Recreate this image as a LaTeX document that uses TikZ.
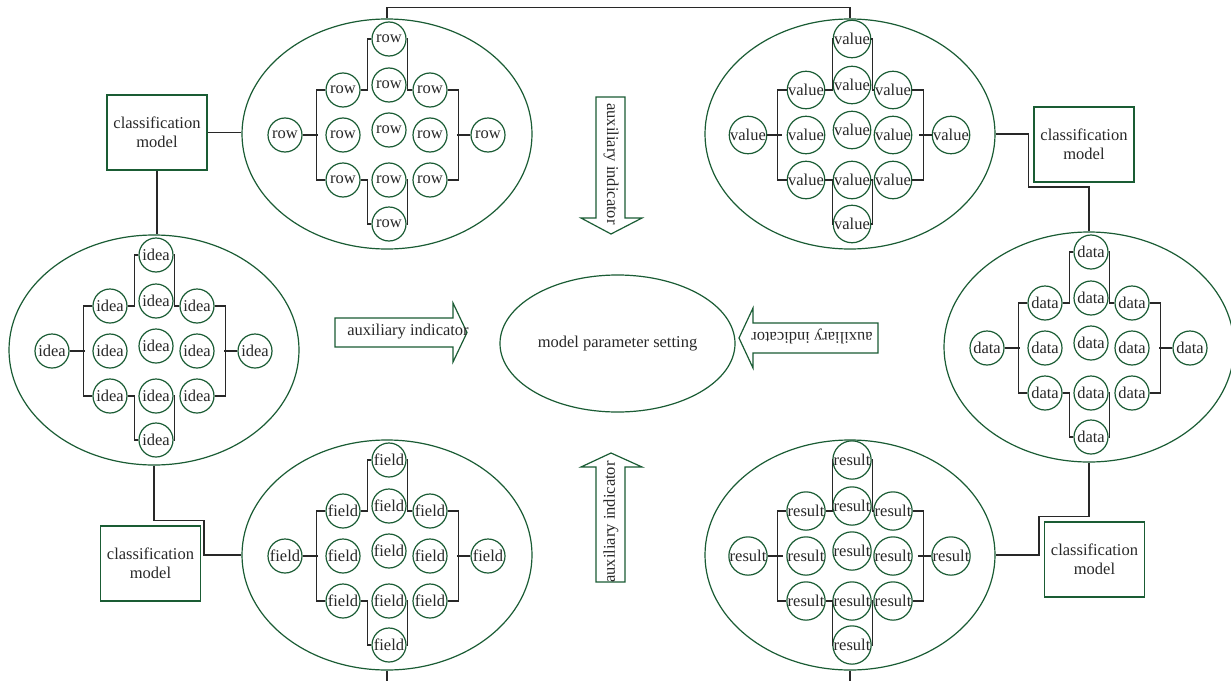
\documentclass[tikz,border=0pt]{standalone}
\usepackage{fontspec}
\setmainfont{Liberation Serif}
\usetikzlibrary{shapes.geometric}
\definecolor{dg}{RGB}{26,92,52}
\definecolor{ln}{RGB}{40,40,40}
\tikzset{
  every node/.style={text=ln, font=\fontsize{16.5}{19.5}\selectfont},
  cir/.style={circle, draw=dg, line width=1.2pt, minimum size=34pt, inner sep=0pt},
  oval/.style={ellipse, draw=dg, line width=1.2pt, minimum width=290pt, minimum height=230pt, inner sep=0pt},
  conn/.style={draw=ln, line width=1.2pt},
  cbox/.style={rectangle, draw=dg, line width=1.2pt, minimum width=100pt, minimum height=75pt, align=center, inner sep=0pt},
  arr/.style={draw=dg, line width=1.2pt, fill=white, line join=miter},
}
\newcommand\cluster[4]{%
  \begin{scope}[shift={(#2,#3)}]
    \node[oval] (#1O) at (-2,-1) {};
    \node[cir] (#1L) at (-104,0) {#4};
    \node[cir] (#1A) at (-46,-45) {#4};
    \node[cir] (#1B) at (-46,0) {#4};
    \node[cir] (#1C) at (-46,45) {#4};
    \node[cir] (#1T) at (0,-96) {#4};
    \node[cir] (#1S) at (0,-50) {#4};
    \node[cir] (#1M) at (0,-5) {#4};
    \node[cir] (#1U) at (0,45) {#4};
    \node[cir] (#1V) at (0,89) {#4};
    \node[cir] (#1D) at (41,-45) {#4};
    \node[cir] (#1E) at (41,0) {#4};
    \node[cir] (#1F) at (41,45) {#4};
    \node[cir] (#1R) at (99,0) {#4};
    \draw[conn] (#1L.east) -- ++(15,0);
    \draw[conn] (#1A.west) -- ++(-9,0) |- (#1C.west);
    \draw[conn] (#1A.east) -- ++(7,0) |- (#1T.west);
    \draw[conn] (#1T.east) -- ++(1,0) |- (#1D.west);
    \draw[conn] (#1D.east) -- ++(11,0) |- (#1F.east);
    \draw[conn] (#1R.west) -- ++(-13,0);
    \draw[conn] (#1C.east) -- ++(7,0) |- (#1V.west);
    \draw[conn] (#1V.east) -- ++(1,0) |- (#1U.east);
  \end{scope}}
\begin{document}
\begin{tikzpicture}[x=1pt,y=-1pt]
\fill[white] (0,0) rectangle (1231,680);
\useasboundingbox (0,0) rectangle (1231,680);

\cluster{row}{389}{135}{row}
\cluster{value}{852}{135}{value}
\cluster{idea}{156}{351}{idea}
\cluster{data}{1091}{348}{data}
\cluster{field}{389}{556}{field}
\cluster{result}{852}{556}{result}

% classification boxes
\node[cbox] (cm1) at (157,132.5) {classification\\model};
\node[cbox] (cm2) at (1084,144.5) {classification\\model};
\node[cbox] (cm3) at (150.5,563.5) {classification\\model};
\node[cbox] (cm4) at (1094.5,559.5) {classification\\model};

% center
\node[ellipse, draw=dg, line width=1.2pt, minimum width=235pt, minimum height=137pt, inner sep=0pt] (mps) at (617.5,343.5) {model parameter setting};

% outer connectors
\draw[conn] (rowO.north) -- ++(0,-11) -| (valueO.north);
\draw[conn] (cm1.east) -- (cm1.east -| rowO.west);
\draw[conn] (cm1.south) -- (cm1.south |- ideaO.north);
\draw[conn] (ideaO.south) -- ++(0,55) -- ++(50,0) |- (fieldO.west);
\draw[conn] (valueO.east) -- ++(33,0) -- ++(0,53) -| (dataO.north);
\draw[conn] (dataO.south) -- ++(0,54) -- ++(-50,0) |- (resultO.east);
\coordinate (fend) at (389,682);
\coordinate (rend) at (852,682);
\draw[conn] (fieldO.south) -- (fieldO.south |- fend);
\draw[conn] (resultO.south) -- (resultO.south |- rend);

% arrows
\draw[arr] (596,97) -- (625,97) -- (625,218) -- (642,218) -- (611,234) -- (581,218) -- (596,218) -- cycle;
\node[rotate=-90] (a1) at (611,164) {auxiliary indicator};
\draw[arr] (596,582) -- (625,582) -- (625,467) -- (642,467) -- (611,453) -- (581,467) -- (596,467) -- cycle;
\node[rotate=90] (a2) at (611,522) {auxiliary indicator};
\draw[arr] (335,318) -- (453,318) -- (453,303) -- (467,332.5) -- (453,362) -- (453,347) -- (335,347) -- cycle;
\node (a3) at (408,332) {auxiliary indicator};
\draw[arr] (878,323) -- (753,323) -- (753,308) -- (739,338) -- (753,368) -- (753,353) -- (878,353) -- cycle;
\node[rotate=180] (a4) at (812,336) {auxiliary indicator};
\end{tikzpicture}
\end{document}
